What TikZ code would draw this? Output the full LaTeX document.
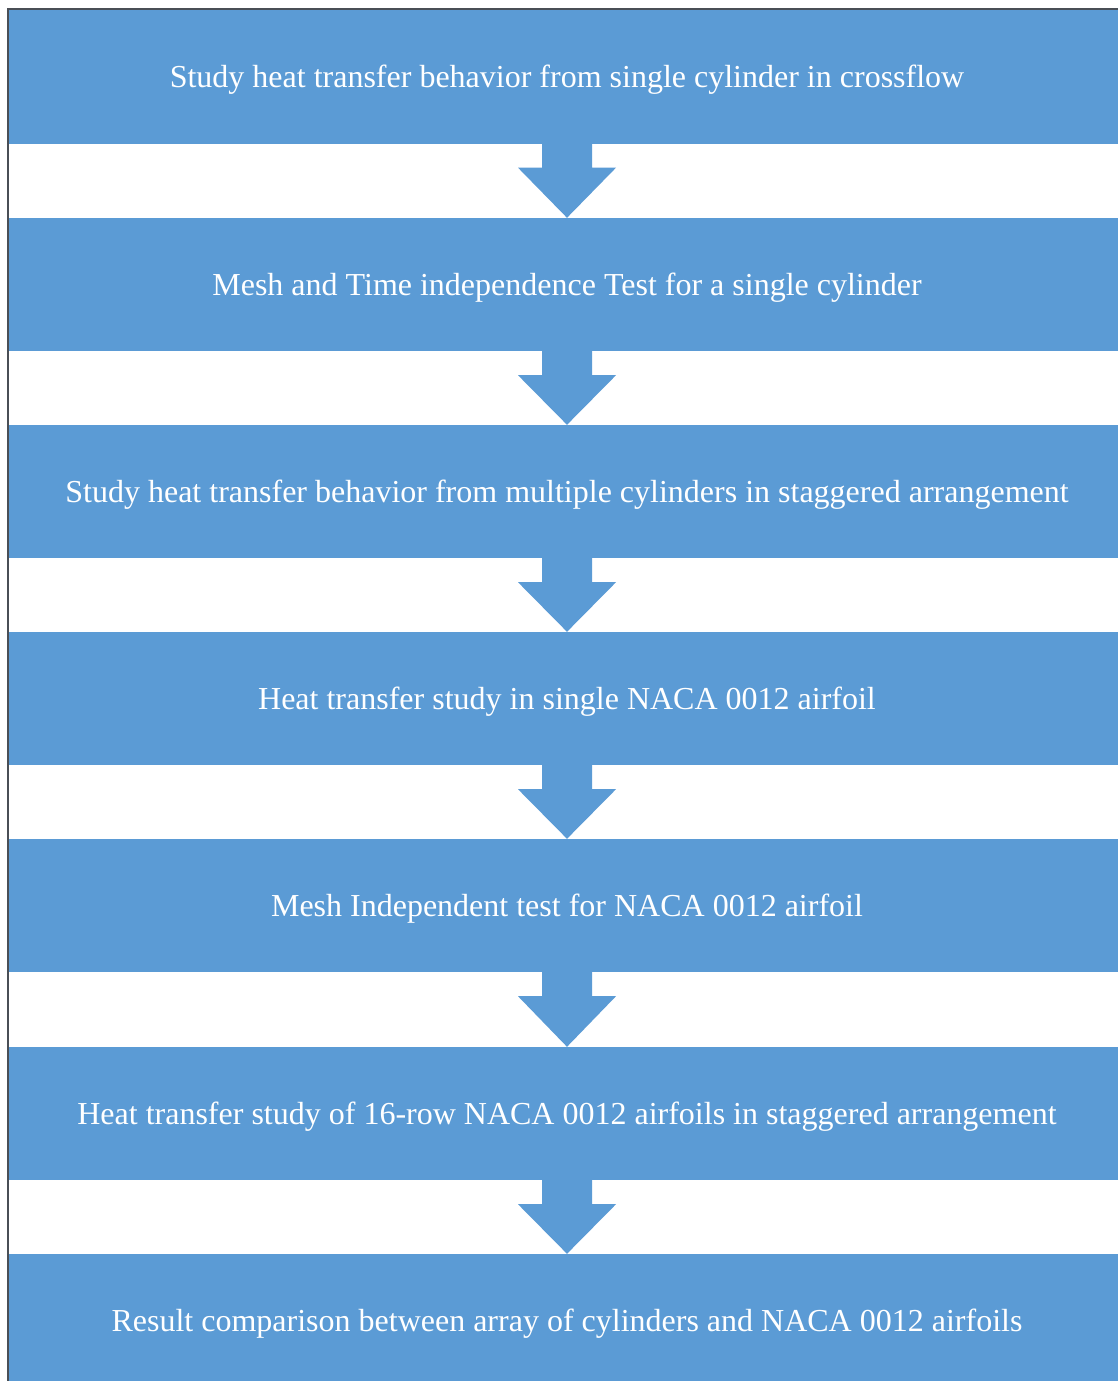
\documentclass[tikz,border=0pt]{standalone}
\usepackage{fontspec}
\setmainfont{Liberation Serif}
\usetikzlibrary{calc}
\definecolor{stepblue}{HTML}{5B9BD5}
\definecolor{frame}{HTML}{4A4F56}
\tikzset{
  stepbox/.style={fill=stepblue, draw=none, anchor=center, minimum width=1118pt, minimum height=133pt, inner sep=0pt, text=white, text height=28pt, text depth=6pt, font=\fontsize{32}{36}\selectfont},
  downarrow/.style={fill=stepblue, draw=none}
}
\begin{document}
\begin{tikzpicture}[x=1pt,y=-1pt]
\useasboundingbox (0,0) rectangle (1118,1381);
\clip (0,0) rectangle (1118,1381);
\fill[white] (0,0) rectangle (1118,1381);
\node[stepbox] (b1) at (567,77) {Study heat transfer behavior from single cylinder in crossflow};
\node[stepbox] (b2) at (567,284.5) {Mesh and Time independence Test for a single cylinder};
\node[stepbox] (b3) at (567,491.5) {Study heat transfer behavior from multiple cylinders in staggered arrangement};
\node[stepbox] (b4) at (567,698.5) {Heat transfer study in single NACA 0012 airfoil};
\node[stepbox] (b5) at (567,905.5) {Mesh Independent test for NACA 0012 airfoil};
\node[stepbox] (b6) at (567,1113.5) {Heat transfer study of 16-row NACA 0012 airfoils in staggered arrangement};
\node[stepbox] (b7) at (567,1320.5) {Result comparison between array of cylinders and NACA 0012 airfoils};
\foreach \a/\b in {b1/b2,b2/b3,b3/b4,b4/b5,b5/b6,b6/b7}{
  \fill[downarrow] ($(\a.south)+(-25,-1)$) -- ($(\a.south)+(-25,24)$) -- ($(\a.south)+(-49,24)$)
    -- (\b.north) -- ($(\a.south)+(49,24)$) -- ($(\a.south)+(25,24)$) -- ($(\a.south)+(25,-1)$) -- cycle;
}
\draw[frame, line width=2pt] (7.5,1381) -- (7.5,9.5) -- (1118,9.5);
\end{tikzpicture}
\end{document}
